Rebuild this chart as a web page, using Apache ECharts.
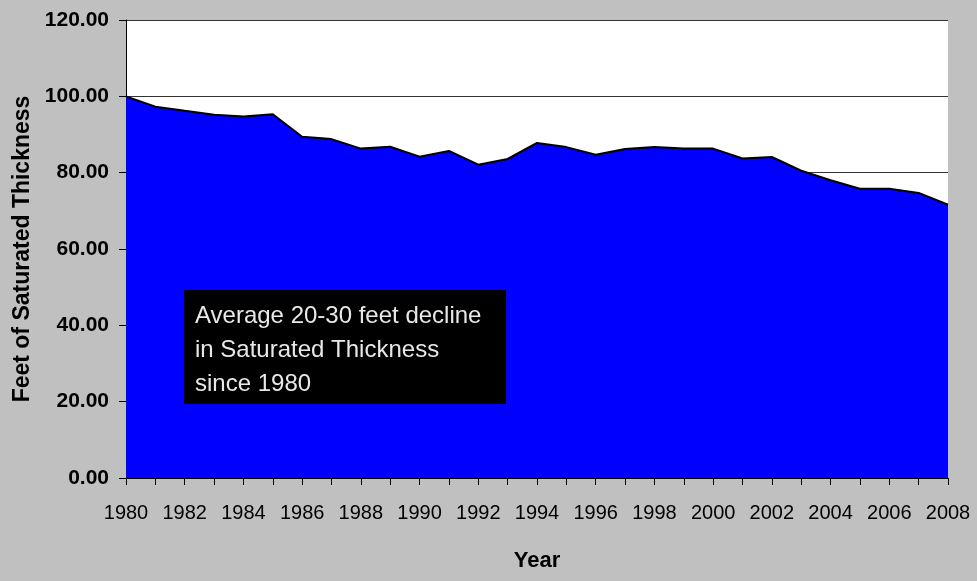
<!DOCTYPE html>
<html><head><meta charset="utf-8">
<script src="https://cdn.jsdelivr.net/npm/echarts@6/dist/echarts.min.js"></script>
<style>html,body{margin:0;padding:0;background:#c0c0c0}#c{width:977px;height:581px}</style>
</head><body><div id="c"></div>
<script>
const years = ['1980','1981','1982','1983','1984','1985','1986','1987','1988','1989','1990','1991','1992','1993','1994','1995','1996','1997','1998','1999','2000','2001','2002','2003','2004','2005','2006','2007','2008'];
const thickness = [100.0,97.3,96.2,95.2,94.7,95.3,89.4,88.8,86.3,86.8,84.2,85.7,82.1,83.6,87.8,86.7,84.7,86.2,86.7,86.3,86.3,83.7,84.1,80.5,78.0,75.8,75.8,74.7,71.6];
const yTicks = {min:0, max:120, interval:20};
const yAxisTitle = 'Feet of Saturated Thickness';
const xAxisTitle = 'Year';
const noteLines = ['Average 20-30 feet decline','in Saturated Thickness','since 1980'];

const FF = "'Liberation Sans Narrow','Arial Narrow','Liberation Sans',Arial,sans-serif";
const chart = echarts.init(document.getElementById('c'));
chart.setOption({
  backgroundColor:'#c0c0c0',
  animation:false,
  grid:{left:126,right:29,top:20,bottom:103,show:true,backgroundColor:'#ffffff',borderWidth:0},
  xAxis:{
    type:'category', data:years, boundaryGap:false,
    name:xAxisTitle, nameLocation:'middle', nameGap:72,
    nameTextStyle:{fontFamily:'Liberation Sans',fontWeight:'bold',fontSize:22,color:'#000'},
    axisLine:{lineStyle:{color:'#000',width:1}},
    axisTick:{interval:0,length:7,lineStyle:{color:'#000'}},
    axisLabel:{interval:1,margin:25,fontFamily:FF,fontSize:20,color:'#000'},
    splitLine:{show:false}
  },
  yAxis:{
    type:'value', min:yTicks.min, max:yTicks.max, interval:yTicks.interval,
    name:yAxisTitle, nameLocation:'middle', nameGap:86,
    nameTextStyle:{fontFamily:'Liberation Sans',fontWeight:'bold',fontSize:23,color:'#000'},
    axisLine:{show:true,lineStyle:{color:'#000',width:1}},
    axisTick:{show:true,length:7,lineStyle:{color:'#000'}},
    axisLabel:{margin:17,fontFamily:FF,fontWeight:'bold',fontSize:21,color:'#000',formatter:v=>v.toFixed(2)},
    splitLine:{show:true,lineStyle:{color:'#333',width:1}}
  },
  series:[{
    type:'line', data:thickness, symbol:'none',
    lineStyle:{color:'#000',width:2},
    areaStyle:{color:'#0000ff',opacity:1}
  }],
  graphic:{elements:[
    {type:'rect',z:100,shape:{x:184,y:290,width:322,height:114},style:{fill:'#000'}},
    {type:'text',z:101,x:195,y:299,style:{text:noteLines.join('\n'),fill:'#e8e8e8',fontFamily:'Liberation Sans',fontSize:24,lineHeight:34}}
  ]}
});
</script></body></html>
